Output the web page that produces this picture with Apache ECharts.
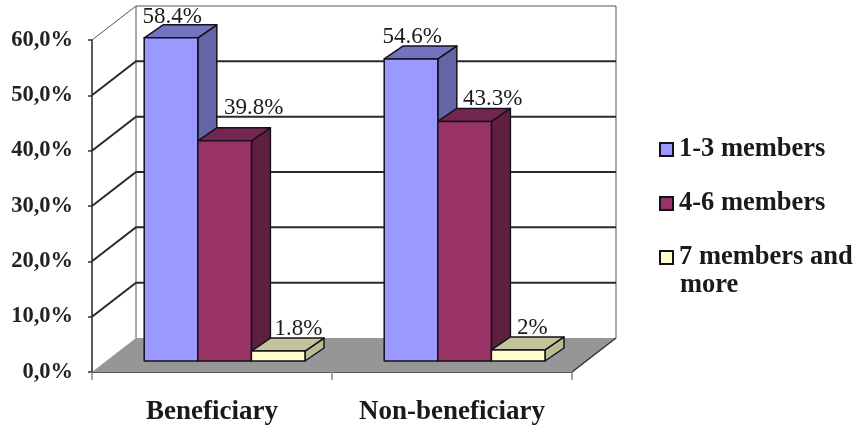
<!DOCTYPE html>
<html>
<head>
<meta charset="utf-8">
<style>html,body{margin:0;padding:0;background:#fff}#c{width:858px;height:432px}</style>
<script src="https://cdn.jsdelivr.net/npm/echarts@6/dist/echarts.min.js"></script>
</head>
<body>
<div id="c"></div>
<script>
const categories = ['Beneficiary', 'Non-beneficiary'];
const oneToThree = [58.4, 54.6];
const fourToSix = [39.8, 43.3];
const sevenPlus = [1.8, 2];
const yTicks = [0, 10, 20, 30, 40, 50, 60];

// Oblique projection used for the pseudo-3D box
const WALL_DX = 44, WALL_DY = -34;
const PLANE_DX = 12.6, PLANE_DY = -11;
const BAR_W = 53.6, BAR_DX = 19, BAR_DY = -13;
const FONT = '"Liberation Serif", serif';

const seriesDefs = [
  { name: '1-3 members', values: oneToThree, slot: -1.5, front: '#9999ff', top: '#7373c0', side: '#6464a6',
    nudge: [[28, -21], [28, -22]] },
  { name: '4-6 members', values: fourToSix, slot: -0.5, front: '#993366', top: '#732650', side: '#5f2040',
    nudge: [[56, -33], [55, -22]] },
  { name: '7 members and more', values: sevenPlus, slot: 0.5, front: '#ffffcc', top: '#c4c49a', side: '#bcbc94',
    nudge: [[47, -22], [41, -22]] }
];

function renderBar(def) {
  return function (params, api) {
    const base = api.coord([api.value(0), 0]);
    const head = api.coord([api.value(0), api.value(1)]);
    const x0 = base[0] + PLANE_DX + def.slot * BAR_W;
    const x1 = x0 + BAR_W;
    const yb = base[1] + PLANE_DY;
    const yt = head[1] + PLANE_DY;
    const edge = { stroke: '#14101c', lineWidth: 1.5, lineJoin: 'round' };
    const nudge = def.nudge[params.dataIndex];
    return {
      type: 'group',
      children: [
        { type: 'polygon', shape: { points: [[x1, yb], [x1 + BAR_DX, yb + BAR_DY], [x1 + BAR_DX, yt + BAR_DY], [x1, yt]] },
          style: Object.assign({ fill: def.side }, edge) },
        { type: 'polygon', shape: { points: [[x0, yt], [x1, yt], [x1 + BAR_DX, yt + BAR_DY], [x0 + BAR_DX, yt + BAR_DY]] },
          style: Object.assign({ fill: def.top }, edge) },
        { type: 'rect', shape: { x: x0, y: yt, width: BAR_W, height: yb - yt },
          style: Object.assign({ fill: def.front }, edge) },
        { type: 'text', z2: 10, x: x0 + nudge[0], y: yt + nudge[1],
          style: { text: api.value(1) + '%', fill: '#1a1a1a', align: 'center', verticalAlign: 'middle',
                   font: '23px ' + FONT } }
      ]
    };
  };
}

// Horizontal extent of the category axis in pixels
function plotExtent(api) {
  const band = api.size([1, 0])[0];
  const left = api.coord([0, 0])[0] - band / 2;
  return [left, left + band * categories.length];
}

// Floor, back wall and left wall of the box
function renderFrame(params, api) {
  const ext = plotExtent(api);
  const left = ext[0], right = ext[1];
  const y = api.coord([0, 0])[1];
  const grey = { stroke: '#a8a8a8', lineWidth: 2 };
  const top = api.coord([0, yTicks[yTicks.length - 1]])[1];
  return {
    type: 'group',
    children: [
      { type: 'polygon', shape: { points: [[left, y], [right, y], [right + WALL_DX, y + WALL_DY], [left + WALL_DX, y + WALL_DY]] },
        style: { fill: '#969696', stroke: 'none' } },
      { type: 'line', shape: { x1: left + WALL_DX, y1: y + WALL_DY, x2: left + WALL_DX, y2: top + WALL_DY }, style: grey },
      { type: 'line', shape: { x1: right + WALL_DX, y1: y + WALL_DY, x2: right + WALL_DX, y2: top + WALL_DY }, style: grey },
      { type: 'line', shape: { x1: right, y1: y, x2: right + WALL_DX, y2: y + WALL_DY }, style: { stroke: '#333', lineWidth: 1.5 } }
    ]
  };
}

// One gridline per tick: across the left wall, then along the back wall
function renderGridline(params, api) {
  const v = api.value(0);
  if (v === 0) return { type: 'group', children: [] };
  const y = api.coord([0, v])[1];
  const ext = plotExtent(api);
  const left = ext[0], right = ext[1];
  const isTop = v === yTicks[yTicks.length - 1];
  const style = { stroke: isTop ? '#555' : '#2a2a2a', lineWidth: isTop ? 1 : 2, fill: 'none' };
  return {
    type: 'polyline',
    shape: { points: [[left, y], [left + WALL_DX, y + WALL_DY], [right + WALL_DX, y + WALL_DY]] },
    style: style
  };
}

const chart = echarts.init(document.getElementById('c'), null, { renderer: 'canvas' });
chart.setOption({
  animation: false,
  backgroundColor: '#fff',
  grid: { left: 92, top: 40, width: 480, height: 332 },
  xAxis: {
    type: 'category',
    data: categories,
    axisLine: { lineStyle: { color: '#222', width: 1.5 } },
    axisTick: { show: true, interval: 0, length: 8, lineStyle: { color: '#888', width: 1.5 } },
    axisLabel: { color: '#1a1a1a', fontFamily: FONT, fontWeight: 'bold', fontSize: 27, margin: 27, interval: 0, hideOverlap: false }
  },
  yAxis: {
    type: 'value',
    min: 0,
    max: 60,
    interval: 10,
    axisLine: { show: true, lineStyle: { color: '#222', width: 1.5 } },
    axisTick: { show: true, length: 4, lineStyle: { color: '#333', width: 1.5 } },
    splitLine: { show: false },
    axisLabel: {
      color: '#222',
      fontFamily: FONT,
      fontWeight: 'bold',
      fontSize: 22.5,
      margin: 19,
      formatter: v => v.toFixed(1).replace('.', ',') + '%'
    }
  },
  legend: {
    left: 654,
    top: 131,
    orient: 'vertical',
    itemWidth: 13,
    itemHeight: 13,
    itemGap: 27,
    icon: 'rect',
    selectedMode: false,
    textStyle: { color: '#1a1a1a', fontFamily: FONT, fontWeight: 'bold', fontSize: 26.5, padding: [0, 0, 0, 1] },
    formatter: name => name.replace(' more', ''),
    data: seriesDefs.map(d => d.name)
  },
  graphic: [{ type: 'text', left: 680, top: 272,
    style: { text: 'more', fill: '#1a1a1a', font: 'bold 26.5px ' + FONT } }],
  series: [
    { type: 'custom', name: 'frame', z: 1, clip: false, silent: true, coordinateSystem: 'cartesian2d',
      renderItem: renderFrame, data: [[0]], encode: { x: -1, y: -1 } },
    { type: 'custom', name: 'gridlines', z: 2, clip: false, silent: true, coordinateSystem: 'cartesian2d',
      renderItem: renderGridline, data: yTicks.map(v => [v]), encode: { y: 0 } }
  ].concat(seriesDefs.map((def, i) => ({
    type: 'custom',
    name: def.name,
    z: 3 + i,
    clip: false,
    coordinateSystem: 'cartesian2d',
    itemStyle: { color: def.front, borderColor: '#14101c', borderWidth: 1.5 },
    renderItem: renderBar(def),
    encode: { x: 0, y: 1 },
    data: def.values.map((v, k) => [k, v])
  })))
});
</script>
</body>
</html>
